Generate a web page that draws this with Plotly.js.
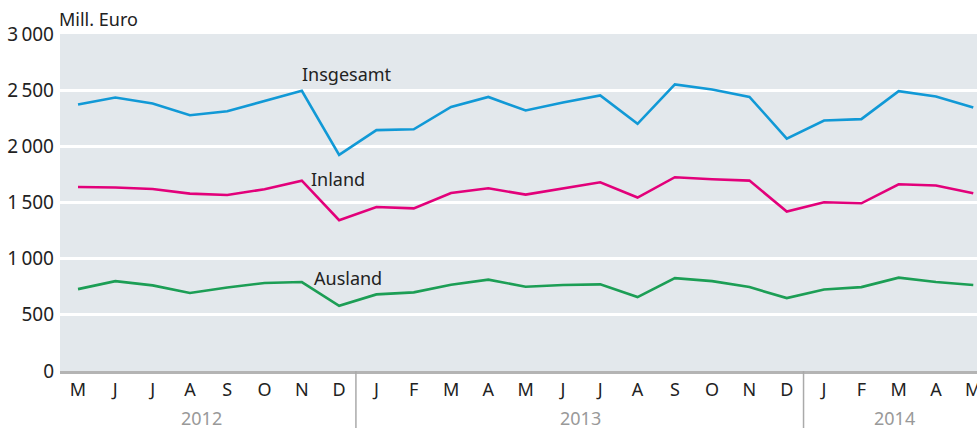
<!DOCTYPE html>
<html>
<head>
<meta charset="utf-8">
<script src="https://cdn.plot.ly/plotly-3.0.1.min.js"></script>
<style>html,body{margin:0;padding:0;background:#fff;}#chart{width:977px;height:428px;}</style>
</head>
<body>
<div id="chart"></div>
<script>
const monthLabels = ["M","J","J","A","S","O","N","D","J","F","M","A","M","J","J","A","S","O","N","D","J","F","M","A","M"];
const insgesamt = [2373,2435,2381,2277,2313,2402,2494,1924,2144,2152,2351,2440,2319,2390,2453,2200,2551,2506,2440,2069,2230,2242,2491,2444,2346];
const inland    = [1638,1633,1620,1579,1567,1618,1694,1343,1460,1448,1585,1627,1570,1624,1680,1544,1725,1707,1695,1419,1502,1493,1662,1651,1582];
const ausland   = [729,800,762,694,744,783,792,581,682,700,768,813,750,765,771,658,827,800,747,649,726,747,831,792,765];
const yTicks = [0,500,1000,1500,2000,2500,3000];
const yTickText = ["0","500","1\u2009000","1\u2009500","2\u2009000","2\u2009500","3\u2009000"];
const years = ["2012","2013","2014"];
const yearPos = [3.3,13.46,21.9];
const yearBreaks = [7.45,19.45];
const seriesNames = ["Insgesamt","Inland","Ausland"];
const labelX = [5.95,6.2,6.28];
const labelY = [2643,1707,824];

const xs = monthLabels.map((_, i) => i);
const colors = ["#1199d6","#e2007a","#1c9e55"];
const font = "Noto Sans, Open Sans, sans-serif";

const traces = [insgesamt, inland, ausland].map((ys, k) => ({
  x: xs, y: ys, type: "scatter", mode: "lines",
  line: {color: colors[k], width: 2.6}, name: seriesNames[k],
  hoverinfo: "skip"
}));

const annotations = [];
seriesNames.forEach((n, k) => annotations.push({
  x: labelX[k], y: labelY[k], xref: "x", yref: "y", text: n, showarrow: false,
  xanchor: "left", yanchor: "middle", font: {family: font, size: 18, color: "#222"}
}));
years.forEach((yr, k) => annotations.push({
  x: yearPos[k], y: -0.138, xref: "x", yref: "paper", text: yr, showarrow: false,
  xanchor: "center", yanchor: "middle", font: {family: font, size: 18, color: "#999"}
}));
annotations.push({
  x: 0, y: 1, xref: "paper", yref: "paper", text: "Mill. Euro", showarrow: false,
  xanchor: "left", yanchor: "bottom", yshift: 1, xshift: -3,
  font: {family: font, size: 18, color: "#222"}
});

const shapes = yearBreaks.map(b => ({
  type: "line", xref: "x", yref: "paper", x0: b, x1: b, y0: 0, y1: -0.25,
  line: {color: "#aaaaaa", width: 1.5}
}));

const layout = {
  width: 977, height: 428,
  margin: {l: 60, r: 0, t: 34, b: 57},
  paper_bgcolor: "#ffffff", plot_bgcolor: "#e3e8ec",
  showlegend: false,
  font: {family: font, size: 18, color: "#222"},
  xaxis: {
    range: [-0.483, 24.1], tickmode: "array", tickvals: xs, ticktext: monthLabels,
    showgrid: false, zeroline: false, showline: true, linecolor: "#b4b4b4", linewidth: 3,
    ticks: "", ticklabeloverflow: "allow",
    tickfont: {family: font, size: 18, color: "#222"}, fixedrange: true
  },
  yaxis: {
    range: [0, 3000], tickmode: "array", tickvals: yTicks, ticktext: yTickText,
    showgrid: true, gridcolor: "#ffffff", gridwidth: 3, zeroline: false, showline: false,
    ticks: "", ticklabelstandoff: 5,
    tickfont: {family: font, size: 19, color: "#222"}, fixedrange: true
  },
  annotations: annotations,
  shapes: shapes
};

Plotly.newPlot("chart", traces, layout, {displayModeBar: false, staticPlot: true});
</script>
</body>
</html>
